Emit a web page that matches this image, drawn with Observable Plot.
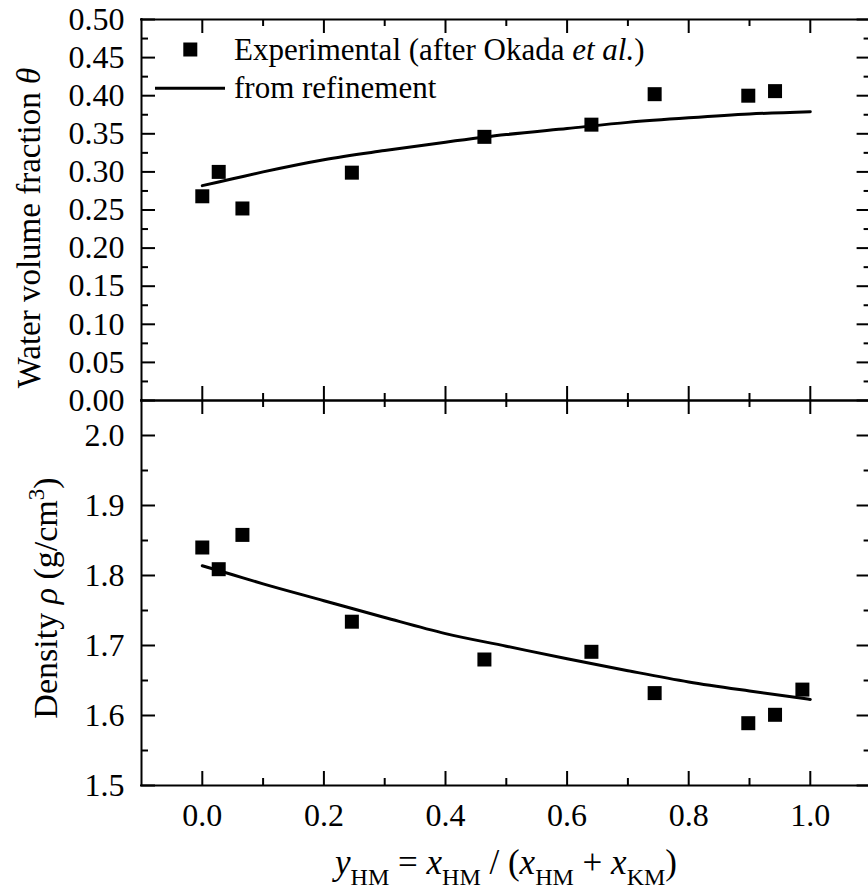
<!DOCTYPE html>
<html><head><meta charset="utf-8">
<script src="https://cdn.jsdelivr.net/npm/d3@7"></script>
<script src="https://cdn.jsdelivr.net/npm/@observablehq/plot@0.6"></script>
<style>
html,body{margin:0;padding:0;background:#fff;overflow:hidden;}
#chart{position:relative;width:868px;height:893px;}
#chart svg{position:absolute;left:0;top:0;}
</style></head><body><div id="chart"></div>
<script>
const FONT = '"Liberation Serif","Times New Roman",Times,serif';

// Experimental data (after Okada et al.)
const yHM_theta = [0, 0.027, 0.066, 0.246, 0.464, 0.640, 0.744, 0.898, 0.942];
const thetaExp  = [0.268, 0.300, 0.252, 0.299, 0.346, 0.362, 0.402, 0.400, 0.406];
const yHM_rho   = [0, 0.027, 0.066, 0.246, 0.464, 0.640, 0.744, 0.898, 0.942, 0.987];
const rhoExp    = [1.840, 1.809, 1.858, 1.734, 1.680, 1.691, 1.632, 1.589, 1.601, 1.637];

// Curves from refinement
const yHM_fit  = [0, 0.05, 0.1, 0.2, 0.3, 0.4, 0.5, 0.6, 0.7, 0.8, 0.9, 1.0];
const thetaFit = [0.282, 0.291, 0.300, 0.316, 0.328, 0.339, 0.349, 0.357, 0.365, 0.371, 0.376, 0.379];
const rhoFit   = [1.814, 1.801, 1.788, 1.764, 1.740, 1.717, 1.699, 1.681, 1.664, 1.648, 1.635, 1.623];

// Ticks
const xMajor = [0, 0.2, 0.4, 0.6, 0.8, 1.0];
const xMinor = [0.1, 0.3, 0.5, 0.7, 0.9];
const thetaMajor = [0, 0.05, 0.10, 0.15, 0.20, 0.25, 0.30, 0.35, 0.40, 0.45, 0.50];
const thetaMinor = [0.025, 0.075, 0.125, 0.175, 0.225, 0.275, 0.325, 0.375, 0.425, 0.475];
const rhoMajor = [1.5, 1.6, 1.7, 1.8, 1.9, 2.0];
const rhoMinor = [1.55, 1.65, 1.75, 1.85, 1.95];

const X_DOMAIN = [-0.1, 1.1];
const X_RANGE = [141, 870.6];

const zip = (xs, ys) => xs.map((x, i) => ({x, y: ys[i]}));

function panel({yDomain, yRange, majorY, minorY, yFormat, exp, fit, showX, marginTop, marginBottom}) {
  const [x0, x1] = X_DOMAIN, [y0, y1] = yDomain;
  const MAJ = 14, MIN = 7, SW = 2;
  const marks = [
    // frame
    Plot.ruleX([x0, x1], {y1: y0, y2: y1, strokeWidth: SW, strokeLinecap: "square"}),
    Plot.ruleY([y0, y1], {x1: x0, x2: x1, strokeWidth: SW, strokeLinecap: "square"}),
    // left / right inward ticks
    Plot.ruleY(majorY, {x1: x0, x2: x0, insetRight: -MAJ, strokeWidth: SW}),
    Plot.ruleY(minorY, {x1: x0, x2: x0, insetRight: -MIN, strokeWidth: SW}),
    Plot.ruleY(majorY, {x1: x1, x2: x1, insetLeft: -MAJ, strokeWidth: SW}),
    Plot.ruleY(minorY, {x1: x1, x2: x1, insetLeft: -MIN, strokeWidth: SW}),
    // top / bottom inward ticks
    Plot.ruleX(xMajor, {y1: y1, y2: y1, insetBottom: -MAJ, strokeWidth: SW}),
    Plot.ruleX(xMinor, {y1: y1, y2: y1, insetBottom: -MIN, strokeWidth: SW}),
    Plot.ruleX(xMajor, {y1: y0, y2: y0, insetTop: -MAJ, strokeWidth: SW}),
    Plot.ruleX(xMinor, {y1: y0, y2: y0, insetTop: -MIN, strokeWidth: SW}),
    Plot.axisY(majorY, {anchor: "left", tickSize: 0, tickPadding: 17, tickFormat: yFormat, fontSize: 32, label: null}),
    Plot.line(fit, {x: "x", y: "y", strokeWidth: 3, curve: "monotone-x", stroke: "black"}),
    Plot.dot(exp, {x: "x", y: "y", symbol: "square", r: 7.9, fill: "black"})
  ];
  if (showX) marks.push(Plot.axisX(xMajor, {anchor: "bottom", tickSize: 0, tickPadding: 18, tickFormat: ".1f", fontSize: 32, label: null}));
  return Plot.plot({
    width: 868, height: 893,
    marginLeft: 141, marginRight: 0, marginTop, marginBottom,
    x: {domain: X_DOMAIN, range: X_RANGE, axis: showX ? undefined : null},
    y: {domain: yDomain, range: yRange},
    style: {background: "transparent", fontFamily: FONT, color: "black", overflow: "visible"},
    marks
  });
}

const chart = document.getElementById("chart");
chart.append(panel({
  yDomain: [0, 0.5], yRange: [400, 19], majorY: thetaMajor, minorY: thetaMinor, yFormat: ".2f",
  exp: zip(yHM_theta, thetaExp), fit: zip(yHM_fit, thetaFit), showX: false, marginTop: 19, marginBottom: 493
}));
chart.append(panel({
  yDomain: [1.5, 2.05], yRange: [785, 400], majorY: rhoMajor, minorY: rhoMinor, yFormat: ".1f",
  exp: zip(yHM_rho, rhoExp), fit: zip(yHM_fit, rhoFit), showX: true, marginTop: 400, marginBottom: 108
}));

// Titles and legend
const ns = "http://www.w3.org/2000/svg";
const ov = document.createElementNS(ns, "svg");
ov.setAttribute("width", 868); ov.setAttribute("height", 893);
ov.style.fontFamily = FONT;
ov.innerHTML = `
<g fill="black" style="white-space:pre">
  <text transform="translate(40,228) rotate(-90)" text-anchor="middle" font-size="33">Water volume fraction <tspan font-style="italic">θ</tspan></text>
  <text transform="translate(57,598) rotate(-90)" text-anchor="middle" font-size="34">Density <tspan font-style="italic">ρ</tspan>  (g/cm<tspan font-size="23" dy="-13">3</tspan><tspan dy="13">)</tspan></text>
  <text x="506" y="874" text-anchor="middle" font-size="35"><tspan font-style="italic">y</tspan><tspan font-size="24" dy="11">HM</tspan><tspan dy="-11"> = </tspan><tspan font-style="italic">x</tspan><tspan font-size="24" dy="11">HM</tspan><tspan dy="-11"> / (</tspan><tspan font-style="italic">x</tspan><tspan font-size="24" dy="11">HM</tspan><tspan dy="-11"> + </tspan><tspan font-style="italic">x</tspan><tspan font-size="24" dy="11">KM</tspan><tspan dy="-11">)</tspan></text>
  <rect x="183.3" y="42.5" width="14" height="14"/>
  <text x="234" y="60" font-size="31">Experimental (after Okada <tspan font-style="italic">et al.</tspan>)</text>
  <line x1="155" x2="225" y1="88.3" y2="88.3" stroke="black" stroke-width="3"/>
  <text x="234" y="98" font-size="31">from refinement</text>
</g>`;
chart.append(ov);
</script></body></html>
